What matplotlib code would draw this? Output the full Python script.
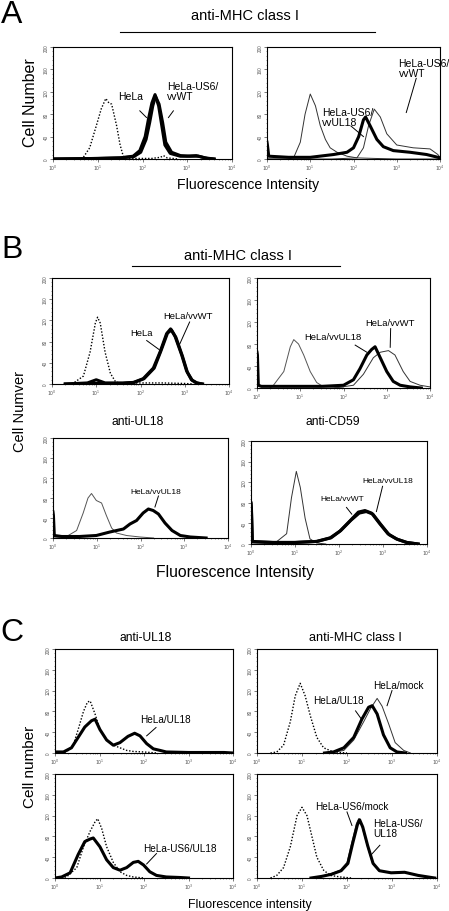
import numpy as np
import matplotlib
matplotlib.use('Agg')
import matplotlib.pyplot as plt
from matplotlib.ticker import FixedLocator, NullFormatter

plt.rcParams['font.family'] = ['Liberation Sans', 'DejaVu Sans']

W, H = 449, 912

# ---- data: x as log10 fluorescence, y as cell counts ----
# A left
a1_ctrl_lx = [0.55, 0.67, 0.82, 0.97, 1.08, 1.18, 1.25, 1.31, 1.42, 1.5, 1.57, 1.7, 2.2, 2.4, 2.47, 2.55, 2.8]
a1_ctrl_y = [0, 2, 20, 60, 90, 108, 100, 98, 60, 25, 5, 1, 1, 3, 6, 2, 0]
a1_hela_lx = [0, 1.0, 1.5, 1.79, 1.94, 2.06, 2.13, 2.21, 2.28, 2.36, 2.43, 2.5, 2.62, 2.84, 3.0, 3.2, 3.3, 3.45, 3.6]
a1_hela_y = [0, 1, 2, 5, 15, 40, 70, 100, 115, 95, 60, 25, 10, 5, 5, 6, 4, 1, 0]
a1_us6_lx = [0, 1.0, 1.5, 1.8, 1.96, 2.08, 2.16, 2.23, 2.29, 2.37, 2.45, 2.52, 2.65, 2.85, 3.05, 3.25, 3.4, 3.6]
a1_us6_y = [0, 1, 2, 4, 12, 35, 65, 95, 112, 98, 65, 30, 12, 6, 5, 5, 2, 0]
# A right
a2_ctrl_lx = [0, 0.5, 0.62, 0.77, 0.88, 1.0, 1.12, 1.23, 1.35, 1.46, 1.62, 1.85, 2.08, 2.5, 3.0, 4.0]
a2_ctrl_y = [0, 0, 3, 30, 80, 116, 95, 60, 35, 20, 12, 5, 2, 1, 0, 0]
a2_ul18_lx = [0, 0.01, 0.04, 0.5, 1.0, 1.54, 1.85, 2.0, 2.12, 2.23, 2.28, 2.38, 2.54, 2.69, 2.92, 3.31, 3.69, 3.9, 4.0]
a2_ul18_y = [30, 25, 5, 3, 3, 8, 12, 20, 40, 70, 75, 60, 35, 22, 15, 12, 8, 4, 2]
a2_wt_lx = [0, 1.5, 2.08, 2.23, 2.35, 2.48, 2.62, 2.77, 3.0, 3.38, 3.77, 3.95, 4.0]
a2_wt_y = [0, 0, 2, 20, 60, 89, 75, 45, 25, 20, 18, 8, 3]
# B top left
b1_ctrl_lx = [0.3, 0.49, 0.71, 0.86, 0.98, 1.03, 1.09, 1.2, 1.32, 1.43, 1.54, 2.0, 2.5, 3.0, 3.2]
b1_ctrl_y = [0, 2, 15, 60, 115, 126, 115, 60, 20, 5, 1, 2, 2, 1, 0]
b1_hela_lx = [0.3, 0.8, 1.0, 1.2, 1.6, 1.84, 2.06, 2.29, 2.44, 2.59, 2.68, 2.78, 2.93, 3.04, 3.15, 3.26, 3.4]
b1_hela_y = [0, 2, 8, 2, 2, 3, 10, 30, 60, 95, 104, 90, 55, 25, 8, 2, 0]
b1_wt_lx = [0.3, 1.0, 1.6, 1.86, 2.08, 2.31, 2.46, 2.61, 2.7, 2.8, 2.95, 3.06, 3.17, 3.28, 3.4]
b1_wt_y = [0, 1, 1, 3, 10, 30, 62, 96, 102, 88, 52, 22, 7, 2, 0]
# B top right
b2_ctrl_lx = [0.3, 0.38, 0.62, 0.77, 0.85, 0.96, 1.08, 1.23, 1.38, 1.54, 1.8, 2.0]
b2_ctrl_y = [0, 5, 30, 75, 88, 80, 60, 30, 10, 2, 1, 0]
b2_ul18_lx = [0, 0.01, 0.03, 0.1, 0.5, 1.0, 1.5, 2.0, 2.23, 2.38, 2.54, 2.65, 2.73, 2.85, 3.0, 3.15, 3.31, 3.54, 3.8]
b2_ul18_y = [65, 60, 5, 3, 3, 3, 3, 5, 15, 35, 60, 70, 75, 55, 30, 12, 5, 2, 0]
b2_wt_lx = [1.8, 2.23, 2.46, 2.69, 2.85, 3.04, 3.19, 3.38, 3.54, 3.77, 4.0]
b2_wt_y = [0, 5, 25, 55, 65, 68, 60, 30, 12, 5, 2]
# B bottom left
b3_ctrl_lx = [0.0, 0.2, 0.31, 0.54, 0.69, 0.8, 0.88, 0.99, 1.11, 1.22, 1.34, 1.45, 1.68, 1.99, 2.3]
b3_ctrl_y = [0, 1, 3, 15, 50, 80, 89, 75, 70, 45, 20, 10, 5, 2, 0]
b3_ul18_lx = [0, 0.01, 0.03, 0.2, 0.6, 0.99, 1.3, 1.61, 1.76, 1.91, 2.06, 2.18, 2.29, 2.41, 2.56, 2.72, 2.91, 3.14, 3.5]
b3_ul18_y = [52, 45, 5, 3, 3, 5, 12, 18, 28, 35, 50, 58, 55, 48, 30, 15, 5, 2, 0]
# B bottom right
b4_ctrl_lx = [0.3, 0.59, 0.81, 0.92, 1.03, 1.12, 1.23, 1.34, 1.49, 1.7]
b4_ctrl_y = [2, 5, 20, 90, 141, 110, 50, 10, 2, 0]
b4_wt_lx = [0, 0.01, 0.03, 0.5, 1.0, 1.49, 1.8, 2.02, 2.25, 2.44, 2.59, 2.74, 2.92, 3.11, 3.3, 3.53, 3.8]
b4_wt_y = [80, 70, 5, 3, 3, 5, 12, 25, 45, 62, 65, 60, 40, 20, 10, 3, 0]
b4_ul18_lx = [0, 0.01, 0.03, 0.5, 1.0, 1.5, 1.82, 2.04, 2.27, 2.46, 2.62, 2.77, 2.95, 3.14, 3.33, 3.55, 3.8]
b4_ul18_y = [78, 65, 4, 3, 3, 5, 12, 26, 46, 60, 63, 58, 38, 18, 9, 3, 0]
# C top left
c1_ctrl_lx = [0.0, 0.26, 0.41, 0.52, 0.64, 0.73, 0.79, 0.9, 1.01, 1.16, 1.31, 1.46, 1.61, 1.76, 1.99, 2.3]
c1_ctrl_y = [0, 2, 15, 45, 80, 98, 100, 75, 45, 25, 15, 10, 5, 3, 2, 0]
c1_ul18_lx = [0.0, 0.19, 0.37, 0.52, 0.67, 0.82, 0.9, 1.01, 1.16, 1.31, 1.46, 1.64, 1.79, 1.91, 2.06, 2.21, 2.36, 2.5, 3.0, 3.8, 4.0]
c1_ul18_y = [2, 2, 10, 30, 50, 62, 65, 45, 25, 15, 20, 32, 38, 33, 18, 8, 5, 2, 1, 1, 0]
# C top right
c2_ctrl_lx = [0.3, 0.44, 0.59, 0.74, 0.85, 0.96, 1.07, 1.19, 1.33, 1.48, 1.7, 2.0]
c2_ctrl_y = [0, 2, 15, 60, 110, 134, 110, 70, 30, 10, 2, 0]
c2_ul18_lx = [1.5, 1.7, 1.93, 2.15, 2.33, 2.48, 2.56, 2.67, 2.81, 2.96, 3.11, 3.3]
c2_ul18_y = [0, 2, 10, 30, 65, 88, 91, 75, 35, 10, 2, 0]
c2_mock_lx = [1.6, 1.93, 2.15, 2.37, 2.52, 2.67, 2.78, 2.93, 3.07, 3.26, 3.41]
c2_mock_y = [0, 5, 25, 60, 85, 105, 90, 55, 20, 5, 0]
# C bottom left
c3_ctrl_lx = [0.0, 0.26, 0.49, 0.64, 0.79, 0.9, 0.96, 1.05, 1.16, 1.31, 1.46, 1.61, 1.76, 2.0]
c3_ctrl_y = [0, 2, 20, 60, 90, 108, 114, 95, 60, 30, 12, 5, 2, 0]
c3_ul18_lx = [0.0, 0.15, 0.34, 0.52, 0.67, 0.79, 0.86, 1.01, 1.16, 1.31, 1.46, 1.61, 1.76, 1.87, 1.99, 2.13, 2.28, 2.5, 2.8, 3.0]
c3_ul18_y = [0, 2, 10, 45, 70, 75, 77, 60, 35, 20, 15, 20, 30, 32, 25, 12, 5, 2, 1, 0]
# C bottom right
c4_ctrl_lx = [0.3, 0.44, 0.59, 0.74, 0.89, 1.0, 1.11, 1.22, 1.33, 1.48, 1.63, 1.85, 2.1]
c4_ctrl_y = [0, 5, 20, 60, 120, 136, 120, 80, 40, 15, 5, 2, 0]
c4_mock_lx = [1.2, 1.41, 1.63, 1.85, 2.0, 2.11, 2.21, 2.26, 2.33, 2.44, 2.56, 2.7, 2.96, 3.26, 3.56, 3.78, 3.95]
c4_mock_y = [0, 3, 8, 15, 30, 70, 105, 114, 100, 65, 30, 15, 10, 12, 5, 2, 0]
c4_ul18_lx = [1.2, 1.43, 1.65, 1.87, 2.02, 2.13, 2.23, 2.28, 2.35, 2.46, 2.58, 2.72, 2.98, 3.28, 3.58, 3.8, 3.95]
c4_ul18_y = [0, 3, 7, 14, 28, 68, 102, 112, 98, 62, 28, 14, 10, 11, 5, 2, 0]

DOT = dict(color='black', lw=1.0, ls=(0, (1, 1.3)))
THIN = dict(color='#333333', lw=0.7)
THICK = dict(color='black', lw=2.2)


def fig_ax(x0, x1, y0, y1):
    ax = fig.add_axes([x0 / W, 1 - y1 / H, (x1 - x0) / W, (y1 - y0) / H])
    ax.set_xscale('log')
    ax.set_xlim(1, 1e4)
    ax.set_ylim(0, 200)
    ax.set_xticks([1, 10, 100, 1000, 10000])
    ax.set_xticklabels(['$10^0$', '$10^1$', '$10^2$', '$10^3$', '$10^4$'])
    ax.set_yticks([0, 40, 80, 120, 160, 200])
    ax.set_yticklabels(['0', '40', '80', '120', '160', '200'], rotation=90, va='center')
    ax.yaxis.set_minor_locator(FixedLocator(np.arange(0, 201, 8)))
    ax.tick_params(which='major', length=2, width=0.5, labelsize=3.3, pad=1, color='#444444', labelcolor='#555555')
    ax.tick_params(which='minor', length=1, width=0.4, color='#444444')
    ax.xaxis.set_minor_formatter(NullFormatter())
    for s in ax.spines.values():
        s.set_linewidth(0.8)
    return ax


def curve(ax, lx, y, style):
    ax.plot(10 ** np.array(lx), y, **style)


def note(ax, txt, tx, ty, p1, p2, fs=7.0):
    ax.text(10 ** tx, ty, txt, fontsize=fs, ha='left', va='center', linespacing=1.05)
    ax.plot([10 ** p1[0], 10 ** p2[0]], [p1[1], p2[1]], color='black', lw=0.7)


def ftext(x, y, s, **kw):
    fig.text(x / W, 1 - y / H, s, ha='center', va='center', **kw)


def hline(x0, x1, y):
    fig.add_artist(plt.Line2D([x0 / W, x1 / W], [1 - y / H, 1 - y / H], color='black', lw=0.8))


fig = plt.figure(figsize=(W / 100, H / 100), dpi=100)

# ---------------- A ----------------
ftext(12, 15, 'A', fontsize=23)
ftext(245, 16, 'anti-MHC class I', fontsize=10.5)
hline(120, 375, 33)
ftext(31, 103, 'Cell Number', fontsize=11.5, rotation=90)
ftext(248, 185, 'Fluorescence Intensity', fontsize=10.2)

ax = fig_ax(53, 232, 48, 160)
curve(ax, a1_ctrl_lx, a1_ctrl_y, DOT)
curve(ax, a1_hela_lx, a1_hela_y, THICK)
curve(ax, a1_us6_lx, a1_us6_y, THICK)
note(ax, 'HeLa', 1.46, 112, (1.94, 86), (2.09, 74), fs=7.5)
note(ax, 'HeLa-US6/\nvvWT', 2.54, 121, (2.69, 86), (2.58, 74), fs=7.5)

ax = fig_ax(267, 440, 48, 160)
curve(ax, a2_ctrl_lx, a2_ctrl_y, THIN)
curve(ax, a2_wt_lx, a2_wt_y, THIN)
curve(ax, a2_ul18_lx, a2_ul18_y, THICK)
note(ax, 'HeLa-US6/\nvvWT', 3.04, 163, (3.45, 144), (3.22, 83), fs=7.5)
note(ax, 'HeLa-US6/\nvvUL18', 1.27, 75, (1.94, 59), (2.23, 40), fs=7.5)

# ---------------- B ----------------
ftext(12, 250, 'B', fontsize=23)
ftext(238, 256, 'anti-MHC class I', fontsize=10.5)
hline(132, 340, 267)
ftext(20, 412, 'Cell Numver', fontsize=10.5, rotation=90)
ftext(138, 422, 'anti-UL18', fontsize=8.7)
ftext(333, 422, 'anti-CD59', fontsize=8.7)
ftext(235, 573, 'Fluorescence Intensity', fontsize=11.3)

ax = fig_ax(52, 229, 279, 385)
curve(ax, b1_ctrl_lx, b1_ctrl_y, DOT)
curve(ax, b1_hela_lx, b1_hela_y, THICK)
curve(ax, b1_wt_lx, b1_wt_y, THICK)
note(ax, 'HeLa/vvWT', 2.51, 129, (3.11, 117), (2.89, 76), fs=6.8)
note(ax, 'HeLa', 1.76, 97, (2.14, 82), (2.42, 65), fs=6.8)

ax = fig_ax(257, 430, 279, 389)
curve(ax, b2_ctrl_lx, b2_ctrl_y, dict(color='#555555', lw=0.7))
curve(ax, b2_wt_lx, b2_wt_y, THIN)
curve(ax, b2_ul18_lx, b2_ul18_y, THICK)
note(ax, 'HeLa/vvWT', 2.5, 119, (3.09, 108), (3.08, 74), fs=6.8)
note(ax, 'HeLa/vvUL18', 1.09, 94, (2.27, 78), (2.54, 65), fs=6.8)

ax = fig_ax(53, 228, 439, 539)
curve(ax, b3_ctrl_lx, b3_ctrl_y, dict(color='#555555', lw=0.7))
curve(ax, b3_ul18_lx, b3_ul18_y, THICK)
note(ax, 'HeLa/vvUL18', 1.76, 92, (2.41, 84), (2.33, 62), fs=6.0)

ax = fig_ax(251, 427, 442, 545)
curve(ax, b4_ctrl_lx, b4_ctrl_y, THIN)
curve(ax, b4_wt_lx, b4_wt_y, THICK)
curve(ax, b4_ul18_lx, b4_ul18_y, THICK)
note(ax, 'HeLa/vvUL18', 2.54, 123, (2.99, 112), (2.85, 63), fs=6.0)
note(ax, 'HeLa/vvWT', 1.57, 88, (2.17, 71), (2.29, 58), fs=6.0)

# ---------------- C ----------------
ftext(12, 633, 'C', fontsize=23)
ftext(146, 638, 'anti-UL18', fontsize=8.7)
ftext(355, 638, 'anti-MHC class I', fontsize=9.1)
ftext(30, 767, 'Cell number', fontsize=11.0, rotation=90)
ftext(250, 905, 'Fluorescence intensity', fontsize=8.9)

ax = fig_ax(55, 233, 650, 754)
curve(ax, c1_ctrl_lx, c1_ctrl_y, DOT)
curve(ax, c1_ul18_lx, c1_ul18_y, THICK)
note(ax, 'HeLa/UL18', 1.91, 65, (2.27, 49), (2.06, 33), fs=7.2)

ax = fig_ax(257, 437, 650, 754)
curve(ax, c2_ctrl_lx, c2_ctrl_y, DOT)
curve(ax, c2_mock_lx, c2_mock_y, THIN)
curve(ax, c2_ul18_lx, c2_ul18_y, THICK)
note(ax, 'HeLa/mock', 2.58, 131, (3.0, 120), (2.89, 91), fs=7.2)
note(ax, 'HeLa/UL18', 1.24, 102, (2.19, 81), (2.33, 64), fs=7.2)

ax = fig_ax(55, 233, 775, 879)
curve(ax, c3_ctrl_lx, c3_ctrl_y, DOT)
curve(ax, c3_ul18_lx, c3_ul18_y, THICK)
note(ax, 'HeLa-US6/UL18', 1.98, 58, (2.28, 47), (2.06, 27), fs=7.2)

ax = fig_ax(257, 437, 775, 879)
curve(ax, c4_ctrl_lx, c4_ctrl_y, DOT)
curve(ax, c4_mock_lx, c4_mock_y, THIN)
curve(ax, c4_ul18_lx, c4_ul18_y, THICK)
note(ax, 'HeLa-US6/mock', 1.3, 139, (2.0, 127), (2.11, 101), fs=7.2)
note(ax, 'HeLa-US6/\nUL18', 2.59, 96, (2.73, 63), (2.52, 43), fs=7.2)

fig.savefig('out.png', dpi=100)
